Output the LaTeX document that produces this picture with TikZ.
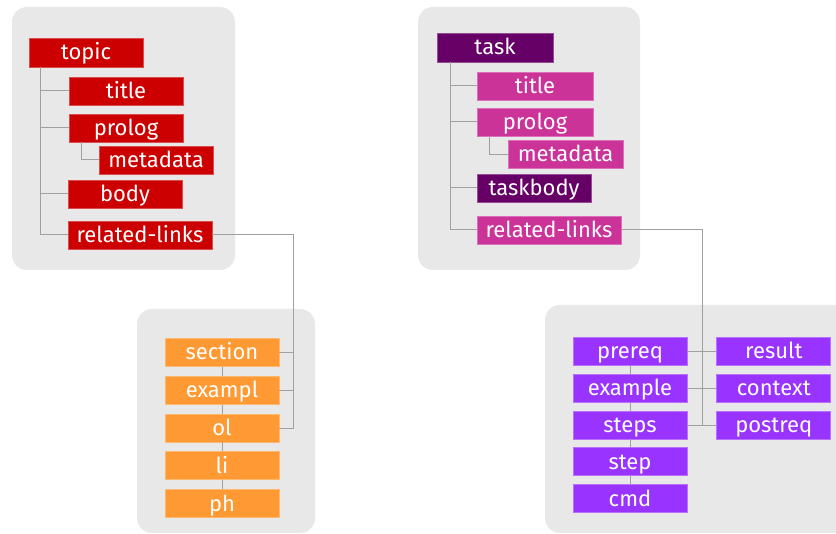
\documentclass[tikz,border=0pt]{standalone}
\usepackage{fontspec}
\setmainfont{Fira Sans}
\usetikzlibrary{positioning}
\usetikzlibrary{calc}

\definecolor{topicred}{HTML}{CC0000}
\definecolor{taskdark}{HTML}{660066}
\definecolor{taskpink}{HTML}{CC3399}
\definecolor{inlineorange}{HTML}{FF9933}
\definecolor{taskviolet}{HTML}{9933FF}
\definecolor{panelgray}{HTML}{E8E8E8}
\definecolor{linegray}{HTML}{A0A0A0}

\begin{document}
\begin{tikzpicture}
			[
				x = 1pt, y = -1pt,
				mypanel/.style = {fill = panelgray, rounded corners = 15pt},
				myblock/.style = {rectangle, inner sep = 0pt, minimum width = 114pt, minimum height = 28pt, text height = 16.5pt, text depth = 1.5pt, text = white, font = \fontsize{22}{22}\selectfont, line width = 0.8pt},
				myred/.style = {myblock, fill = topicred, draw = topicred!70!white},
				mydark/.style = {myblock, fill = taskdark, draw = taskdark!70!white},
				mypink/.style = {myblock, fill = taskpink, draw = taskpink!70!white},
				myorange/.style = {myblock, fill = inlineorange, draw = inlineorange!70!white},
				myviolet/.style = {myblock, fill = taskviolet, draw = taskviolet!70!white},
				myline/.style = {draw = linegray, line width = 1pt}
			]
			\useasboundingbox (0,0) rectangle (836,534);
			%
			\fill [mypanel] (12,7) rectangle (235,270);
			\fill [mypanel] (418,7) rectangle (640,270);
			\fill [mypanel] (137,309) rectangle (315,533);
			\fill [mypanel] (545,305) rectangle (880,533);
			%
			% topic
			\node (topic) [myred, minimum height = 29pt] at (86,52.5) {topic};
			\node (title1) [myred] at (126,91) {title};
			\node (prolog1) [myred] at (126,128) {prolog};
			\node (metadata1) [myred] at (156,160) {metadata};
			\node (body1) [myred] at (125,194) {body};
			\node (links1) [myred, minimum width = 144pt] at (140,235) {related-links};
			%
			\draw [myline] ([xshift = 12pt]topic.south west) |- (title1);
			\draw [myline] ([xshift = 12pt]topic.south west) |- (prolog1);
			\draw [myline] ([xshift = 12pt]topic.south west) |- (body1);
			\draw [myline] ([xshift = 12pt]topic.south west) |- (links1);
			\draw [myline] ([xshift = 13pt]prolog1.south west) |- (metadata1);
			%
			% task
			\node (task) [mydark, minimum width = 116pt, minimum height = 29pt] at (495,47.5) {task};
			\node (title2) [mypink, minimum width = 116pt] at (535,86) {title};
			\node (prolog2) [mypink, minimum width = 116pt] at (535,122) {prolog};
			\node (metadata2) [mypink, minimum width = 115pt] at (565.5,154.5) {metadata};
			\node (taskbody) [mydark] at (534,188) {taskbody};
			\node (links2) [mypink, minimum width = 144pt] at (549,230) {related-links};
			%
			\draw [myline] ([xshift = 14pt]task.south west) |- (title2);
			\draw [myline] ([xshift = 14pt]task.south west) |- (prolog2);
			\draw [myline] ([xshift = 14pt]task.south west) |- (taskbody);
			\draw [myline] ([xshift = 14pt]task.south west) |- (links2);
			\draw [myline] ([xshift = 13pt]prolog2.south west) |- (metadata2);
			%
			% inline elements
			\node (section) [myorange] at (222,352.5) {section};
			\node (exampl) [myorange, below = 9pt of section] {exampl};
			\node (ol) [myorange, below = 9pt of exampl] {ol};
			\node (li) [myorange, below = 9pt of ol] {li};
			\node (ph) [myorange, below = 9pt of li] {ph};
			%
			\draw [myline] (section) -- (exampl);
			\draw [myline] (exampl) -- (ol);
			\draw [myline] (ol) -- (li);
			\draw [myline] (li) -- (ph);
			%
			\coordinate (bus1) at ($(links1.east)+(81pt,0)$);
			\draw [myline] (links1.east) -- (bus1) |- (ol.east);
			\draw [myline] (section.east) -- (section.east -| bus1);
			\draw [myline] (exampl.east) -- (exampl.east -| bus1);
			%
			% task elements
			\node (prereq) [myviolet] at (630,351.5) {prereq};
			\node (example) [myviolet, below = 8pt of prereq] {example};
			\node (steps) [myviolet, below = 8pt of example] {steps};
			\node (step) [myviolet, below = 8pt of steps] {step};
			\node (cmd) [myviolet, below = 8pt of step] {cmd};
			\node (result) [myviolet, right = 29pt of prereq] {result};
			\node (context) [myviolet, right = 29pt of example] {context};
			\node (postreq) [myviolet, right = 29pt of steps] {postreq};
			%
			\draw [myline] (prereq) -- (example);
			\draw [myline] (example) -- (steps);
			\draw [myline] (steps) -- (step);
			\draw [myline] (step) -- (cmd);
			\draw [myline] (prereq) -- (result);
			\draw [myline] (example) -- (context);
			\draw [myline] (steps) -- (postreq);
			%
			\coordinate (bus2) at ($(links2.east)+(81pt,0)$);
			\draw [myline] (links2.east) -- (bus2) -- (bus2 |- steps.east);
			%
		\end{tikzpicture}
\end{document}
